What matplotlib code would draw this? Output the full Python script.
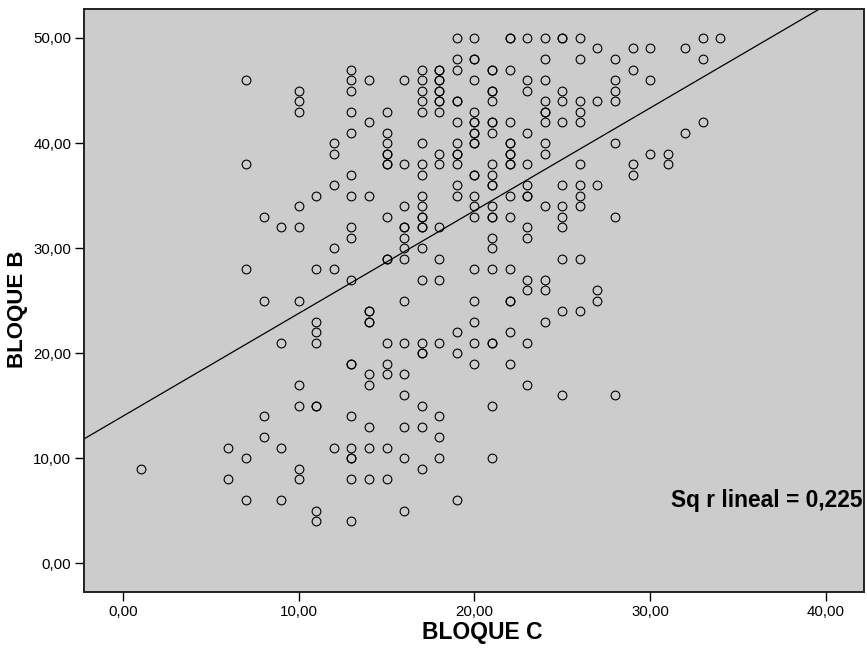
import numpy as np
import matplotlib
matplotlib.use("Agg")
import matplotlib.pyplot as plt

plt.rcParams['font.family'] = ['Liberation Sans', 'DejaVu Sans']

# BLOQUE C (x) and BLOQUE B (y), one line per x value
bloque_c = [
    1,
    6, 6,
    7, 7, 7, 7, 7,
    8, 8, 8, 8,
    9, 9, 9, 9,
    10, 10, 10, 10, 10, 10, 10, 10, 10, 10,
    11, 11, 11, 11, 11, 11, 11, 11, 11,
    12, 12, 12, 12, 12, 12,
    13, 13, 13, 13, 13, 13, 13, 13, 13, 13, 13, 13, 13, 13, 13, 13, 13, 13,
    14, 14, 14, 14, 14, 14, 14, 14, 14, 14, 14, 14,
    15, 15, 15, 15, 15, 15, 15, 15, 15, 15, 15, 15, 15, 15, 15,
    16, 16, 16, 16, 16, 16, 16, 16, 16, 16, 16, 16, 16, 16, 16,
    17, 17, 17, 17, 17, 17, 17, 17, 17, 17, 17, 17, 17, 17, 17, 17, 17, 17, 17, 17, 17, 17,
    18, 18, 18, 18, 18, 18, 18, 18, 18, 18, 18, 18, 18, 18, 18, 18, 18, 18,
    19, 19, 19, 19, 19, 19, 19, 19, 19, 19, 19, 19, 19, 19, 19,
    20, 20, 20, 20, 20, 20, 20, 20, 20, 20, 20, 20, 20, 20, 20, 20, 20, 20, 20, 20, 20,
    21, 21, 21, 21, 21, 21, 21, 21, 21, 21, 21, 21, 21, 21, 21, 21, 21, 21, 21, 21, 21, 21,
    22, 22, 22, 22, 22, 22, 22, 22, 22, 22, 22, 22, 22, 22, 22, 22, 22,
    23, 23, 23, 23, 23, 23, 23, 23, 23, 23, 23, 23, 23, 23,
    24, 24, 24, 24, 24, 24, 24, 24, 24, 24, 24, 24, 24,
    25, 25, 25, 25, 25, 25, 25, 25, 25, 25, 25, 25,
    26, 26, 26, 26, 26, 26, 26, 26, 26, 26, 26,
    27, 27, 27, 27, 27,
    28, 28, 28, 28, 28, 28, 28,
    29, 29, 29, 29,
    30, 30, 30,
    31, 31,
    32, 32,
    33, 33, 33,
    34,
]
bloque_b = [
    9,
    11, 8,
    46, 38, 28, 10, 6,
    33, 25, 14, 12,
    32, 21, 11, 6,
    45, 44, 43, 34, 32, 25, 17, 15, 9, 8,
    35, 28, 23, 22, 21, 15, 15, 5, 4,
    40, 39, 36, 30, 28, 11,
    47, 46, 45, 43, 41, 37, 35, 32, 31, 27, 19, 19, 14, 11, 10, 10, 8, 4,
    46, 42, 35, 24, 24, 23, 23, 18, 17, 13, 11, 8,
    43, 41, 40, 39, 39, 38, 38, 33, 29, 29, 21, 19, 18, 11, 8,
    46, 38, 34, 32, 32, 31, 30, 29, 25, 21, 18, 16, 13, 10, 5,
    47, 46, 45, 44, 43, 40, 38, 37, 35, 34, 33, 33, 32, 32, 30, 27, 21, 20, 20, 15, 13, 9,
    47, 47, 46, 46, 45, 45, 44, 44, 43, 39, 38, 32, 29, 27, 21, 14, 12, 10,
    50, 48, 47, 44, 44, 42, 40, 39, 39, 38, 36, 35, 22, 20, 6,
    50, 48, 48, 46, 43, 42, 42, 41, 41, 40, 40, 37, 37, 35, 34, 33, 28, 25, 23, 21, 19,
    47, 47, 45, 45, 44, 42, 42, 41, 38, 37, 36, 36, 34, 33, 33, 31, 30, 28, 21, 21, 15, 10,
    50, 50, 47, 42, 40, 40, 39, 39, 38, 38, 35, 33, 28, 25, 25, 22, 19,
    50, 46, 45, 41, 38, 36, 35, 35, 32, 31, 27, 26, 21, 17,
    50, 48, 46, 44, 43, 43, 42, 40, 39, 34, 27, 26, 23,
    50, 50, 45, 44, 42, 36, 34, 33, 32, 29, 24, 16,
    50, 48, 44, 43, 42, 38, 36, 35, 34, 29, 24,
    49, 44, 36, 26, 25,
    48, 46, 45, 44, 40, 33, 16,
    49, 47, 38, 37,
    49, 46, 39,
    39, 38,
    49, 41,
    50, 48, 42,
    50,
]
x_ticks = [0, 10, 20, 30, 40]
y_ticks = [0, 10, 20, 30, 40, 50]
r2_label = "Sq r lineal = 0,225"

x = np.array(bloque_c, dtype=float)
y = np.array(bloque_b, dtype=float)

fig = plt.figure(figsize=(8.67, 6.5), dpi=100)
ax = fig.add_axes([0.0969, 0.0888, 0.9000, 0.8974])
ax.set_facecolor('#cccccc')

ax.plot(x, y, linestyle='none', marker='o', markersize=6.3,
        markerfacecolor='none', markeredgecolor='black', markeredgewidth=0.8)

xlim = (-2.22, 42.19)
ax.set_xlim(*xlim)
ax.set_ylim(-2.74, 52.76)

# linear fit line across the whole plot
slope, intercept = np.polyfit(x, y, 1)
xl = np.array(xlim)
ax.plot(xl, intercept + slope * xl, color='black', linewidth=0.9)

ax.set_xticks(x_ticks)
ax.set_xticklabels([f"{v:.2f}".replace('.', ',') for v in x_ticks])
ax.set_yticks(y_ticks)
ax.set_yticklabels([f"{v:.2f}".replace('.', ',') for v in y_ticks])
ax.tick_params(direction='out', length=6.7, width=1.0, labelsize=10.8,
               pad=2.5, colors='black')

for sp in ax.spines.values():
    sp.set_linewidth(1.4)
    sp.set_color('#222222')

ax.set_xlabel("BLOQUE C", fontsize=16.5, fontweight='bold')
ax.set_ylabel("BLOQUE B", fontsize=16, fontweight='bold')
ax.xaxis.set_label_coords(0.51, -0.05)
ax.yaxis.set_label_coords(-0.072, 0.485)

ax.text(0.998, 0.157, r2_label, transform=ax.transAxes, ha='right',
        va='center', fontsize=16.4, fontweight='bold')

fig.savefig('out.png', dpi=100)
